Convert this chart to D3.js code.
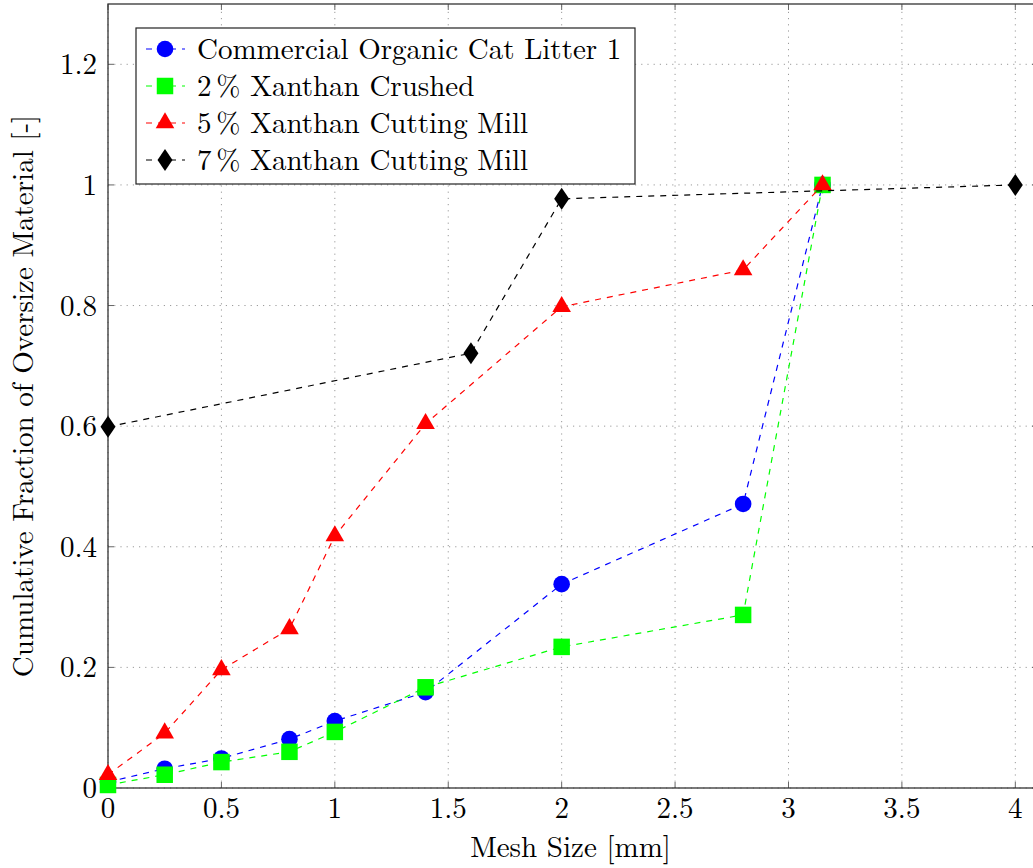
<!DOCTYPE html>
<html>
<head>
<meta charset="utf-8">
<script src="https://cdn.jsdelivr.net/npm/d3@7"></script>
<style>
  body { margin: 0; background: white; }
  svg text { font-family: "Latin Modern Roman", "Liberation Serif", serif; fill: #000; }
</style>
</head>
<body>
<div id="chart"></div>
<script>
// data
const seriesNames = [
  "Commercial Organic Cat Litter 1",
  "2\u202F% Xanthan Crushed",
  "5\u202F% Xanthan Cutting Mill",
  "7\u202F% Xanthan Cutting Mill"
];
const meshA = [0, 0.25, 0.5, 0.8, 1, 1.4, 2, 2.8, 3.15];
const litterY = [0.01, 0.032, 0.049, 0.081, 0.111, 0.159, 0.338, 0.471, 1.0];
const crushedY = [0.005, 0.022, 0.043, 0.060, 0.093, 0.167, 0.234, 0.287, 1.0];
const millY5 = [0.022, 0.091, 0.196, 0.264, 0.418, 0.604, 0.798, 0.859, 1.0];
const meshB = [0, 1.6, 2, 4];
const millY7 = [0.599, 0.721, 0.977, 1.0];

const xTicks = [0, 0.5, 1, 1.5, 2, 2.5, 3, 3.5, 4];
const yTicks = [0, 0.2, 0.4, 0.6, 0.8, 1, 1.2];

const colors = ["#0000ff", "#00ff00", "#ff0000", "#000000"];
const symbols = [d3.symbolCircle, d3.symbolSquare, d3.symbolTriangle, "diamond"];

const series = [
  { name: seriesNames[0], xs: meshA, ys: litterY },
  { name: seriesNames[1], xs: meshA, ys: crushedY },
  { name: seriesNames[2], xs: meshA, ys: millY5 },
  { name: seriesNames[3], xs: meshB, ys: millY7 }
].map((s, i) => ({ ...s, color: colors[i], symbol: symbols[i],
  points: s.xs.map((x, j) => ({ x: x, y: s.ys[j] })) }));

const width = 1033, height = 868;
const fontSize = "29px";
const svg = d3.select("#chart").append("svg")
  .attr("width", width)
  .attr("height", height);

const x = d3.scaleLinear().domain([0, 4.1]).range([108, 1038]);
const y = d3.scaleLinear().domain([0, 1.3]).range([788, 4]);

// grid
const grid = svg.append("g");
grid.selectAll("line.gx")
  .data(xTicks)
  .enter().append("line")
  .attr("x1", d => x(d)).attr("x2", d => x(d))
  .attr("y1", y.range()[0]).attr("y2", y.range()[1])
  .attr("stroke", "#9a9a9a").attr("stroke-width", 1)
  .attr("stroke-dasharray", "1.2,5");
grid.selectAll("line.gy")
  .data(yTicks)
  .enter().append("line")
  .attr("y1", d => y(d)).attr("y2", d => y(d))
  .attr("x1", x.range()[0]).attr("x2", x.range()[1])
  .attr("stroke", "#9a9a9a").attr("stroke-width", 1)
  .attr("stroke-dasharray", "1.2,5");

// inward tick marks on all sides
const tl = 6;
const ticks = svg.append("g").attr("stroke", "#666").attr("stroke-width", 1);
xTicks.forEach(d => {
  ticks.append("line").attr("x1", x(d)).attr("x2", x(d)).attr("y1", y(0)).attr("y2", y(0) - tl);
  ticks.append("line").attr("x1", x(d)).attr("x2", x(d)).attr("y1", y(1.3)).attr("y2", y(1.3) + tl);
});
yTicks.forEach(d => {
  ticks.append("line").attr("y1", y(d)).attr("y2", y(d)).attr("x1", x(0)).attr("x2", x(0) + tl);
  ticks.append("line").attr("y1", y(d)).attr("y2", y(d)).attr("x1", x(4.1)).attr("x2", x(4.1) - tl);
});

// frame
svg.append("rect")
  .attr("x", x(0)).attr("y", y(1.3))
  .attr("width", x(4.1) - x(0)).attr("height", y(0) - y(1.3))
  .attr("fill", "none").attr("stroke", "#333").attr("stroke-width", 1.3);

// tick labels
svg.append("g").selectAll("text")
  .data(xTicks)
  .enter().append("text")
  .attr("x", d => x(d)).attr("y", y(0) + 30)
  .attr("text-anchor", "middle")
  .attr("font-size", fontSize)
  .text(d => d);
svg.append("g").selectAll("text")
  .data(yTicks)
  .enter().append("text")
  .attr("x", x(0) - 11).attr("y", d => y(d) + 10)
  .attr("text-anchor", "end")
  .attr("font-size", fontSize)
  .text(d => d);

// axis titles
svg.append("text")
  .attr("x", (x(0) + width) / 2).attr("y", 857)
  .attr("text-anchor", "middle")
  .attr("font-size", fontSize)
  .text("Mesh Size [mm]");
svg.append("text")
  .attr("transform", `translate(33,${(y(0) + y(1.3)) / 2}) rotate(-90)`)
  .attr("text-anchor", "middle")
  .attr("font-size", fontSize)
  .text("Cumulative Fraction of Oversize Material [-]");

// marker path generator
const markerPath = (sym) => {
  if (sym === "diamond") return "M0,-11L7.5,0L0,11L-7.5,0Z";
  if (sym === d3.symbolCircle) return d3.symbol(sym).size(Math.PI * 8.3 * 8.3)();
  if (sym === d3.symbolSquare) return d3.symbol(sym).size(16.5 * 16.5)();
  return d3.symbol(sym).size(150)();
};

const line = d3.line().x(d => x(d.x)).y(d => y(d.y));

const plot = svg.append("g");
series.forEach(s => {
  const g = plot.append("g");
  g.append("path")
    .datum(s.points)
    .attr("d", line)
    .attr("fill", "none")
    .attr("stroke", s.color)
    .attr("stroke-width", 1.2)
    .attr("stroke-dasharray", "6,6");
  g.selectAll("path.m")
    .data(s.points)
    .enter().append("path")
    .attr("transform", d => `translate(${x(d.x)},${y(d.y)})`)
    .attr("d", markerPath(s.symbol))
    .attr("fill", s.color);
});

// legend
const legend = svg.append("g");
legend.append("rect")
  .attr("x", 136).attr("y", 28)
  .attr("width", 499).attr("height", 156)
  .attr("fill", "white").attr("stroke", "#222").attr("stroke-width", 1.2);
const rowH = 37;
series.forEach((s, i) => {
  const cy = 49 + i * rowH;
  legend.append("line")
    .attr("x1", 145).attr("x2", 185).attr("y1", cy).attr("y2", cy)
    .attr("stroke", s.color).attr("stroke-width", 1.2)
    .attr("stroke-dasharray", "6,6").attr("stroke-dashoffset", -1);
  legend.append("path")
    .attr("transform", `translate(165,${cy})`)
    .attr("d", markerPath(s.symbol))
    .attr("fill", s.color);
  legend.append("text")
    .attr("x", 197).attr("y", cy + 10)
    .attr("font-size", fontSize)
    .text(s.name);
});
</script>
</body>
</html>
